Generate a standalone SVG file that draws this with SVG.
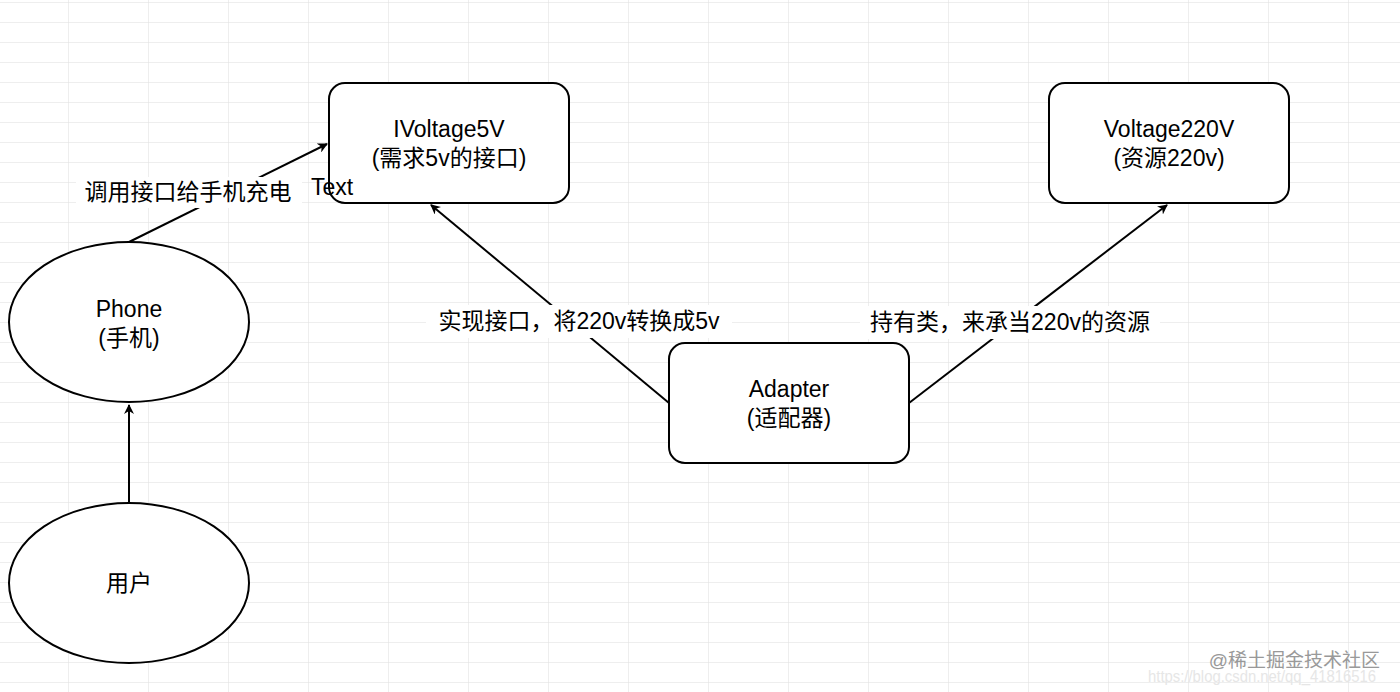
<svg xmlns="http://www.w3.org/2000/svg" width="1400" height="692" viewBox="0 0 1400 692">
<defs>
<pattern id="g" width="80" height="20" patternUnits="userSpaceOnUse" x="68" y="2">
<path d="M0 0H80M0 0V20" stroke="#dedede" stroke-width="1" fill="none"/>
</pattern>
<marker id="a" markerWidth="10" markerHeight="10" refX="9" refY="5" orient="auto" markerUnits="userSpaceOnUse" viewBox="0 0 10 10">
<path d="M0 0L10 5L0 10L3 5Z" fill="#000"/>
</marker>
<style>
.n{fill:#fff;stroke:#000;stroke-width:2}
.t{font-family:"Liberation Sans","Noto Sans CJK SC",sans-serif;font-size:23px;text-anchor:middle;fill:#000}
.e{stroke:#000;stroke-width:2;fill:none;marker-end:url(#a)}
.l{fill:#fff}
</style>
</defs>
<rect width="1400" height="692" fill="#fff"/>
<rect width="1400" height="692" fill="url(#g)"/>
<g id="connectors">
<path class="e" d="M129 242L327 144"/>
<path class="e" d="M129 503L129 405"/>
<path class="e" d="M669 403L431 205"/>
<path class="e" d="M909 403L1167 205"/>
<rect class="l" x="76" y="177" width="226" height="31"/>
<rect class="l" x="426" y="305" width="306" height="33"/>
<rect class="l" x="860" y="306" width="300" height="33"/>
<text class="t" x="188" y="200">调用接口给手机充电</text>
<text class="t" x="579" y="329">实现接口，将220v转换成5v</text>
<text class="t" x="1010" y="330">持有类，来承当220v的资源</text>
</g>
<g id="ivoltage5v"><rect class="n" x="329" y="83" width="240" height="120" rx="16"/><text class="t" x="449" y="137">IVoltage5V</text><text class="t" x="449" y="166">(需求5v的接口)</text></g>
<g id="voltage220v"><rect class="n" x="1049" y="83" width="240" height="120" rx="16"/><text class="t" x="1169" y="137">Voltage220V</text><text class="t" x="1169" y="166">(资源220v)</text></g>
<g id="adapter"><rect class="n" x="669" y="343" width="240" height="120" rx="16"/><text class="t" x="789" y="397">Adapter</text><text class="t" x="789" y="426">(适配器)</text></g>
<g id="phone"><ellipse class="n" cx="129" cy="322" rx="120" ry="80"/><text class="t" x="129" y="317">Phone</text><text class="t" x="129" y="346">(手机)</text></g>
<g id="user"><ellipse class="n" cx="129" cy="583" rx="120" ry="80"/><text class="t" x="129" y="591">用户</text></g>
<text class="t" x="332" y="195">Text</text>
<text x="1148" y="682" font-family="Liberation Sans,sans-serif" font-size="16" fill="#e6e6e6" textLength="228" lengthAdjust="spacingAndGlyphs">https://blog.csdn.net/qq_41816516</text>
<text x="1380" y="667" font-family="Liberation Sans,'Noto Sans CJK SC',sans-serif" font-size="19" fill="#999" text-anchor="end">@稀土掘金技术社区</text>
</svg>
